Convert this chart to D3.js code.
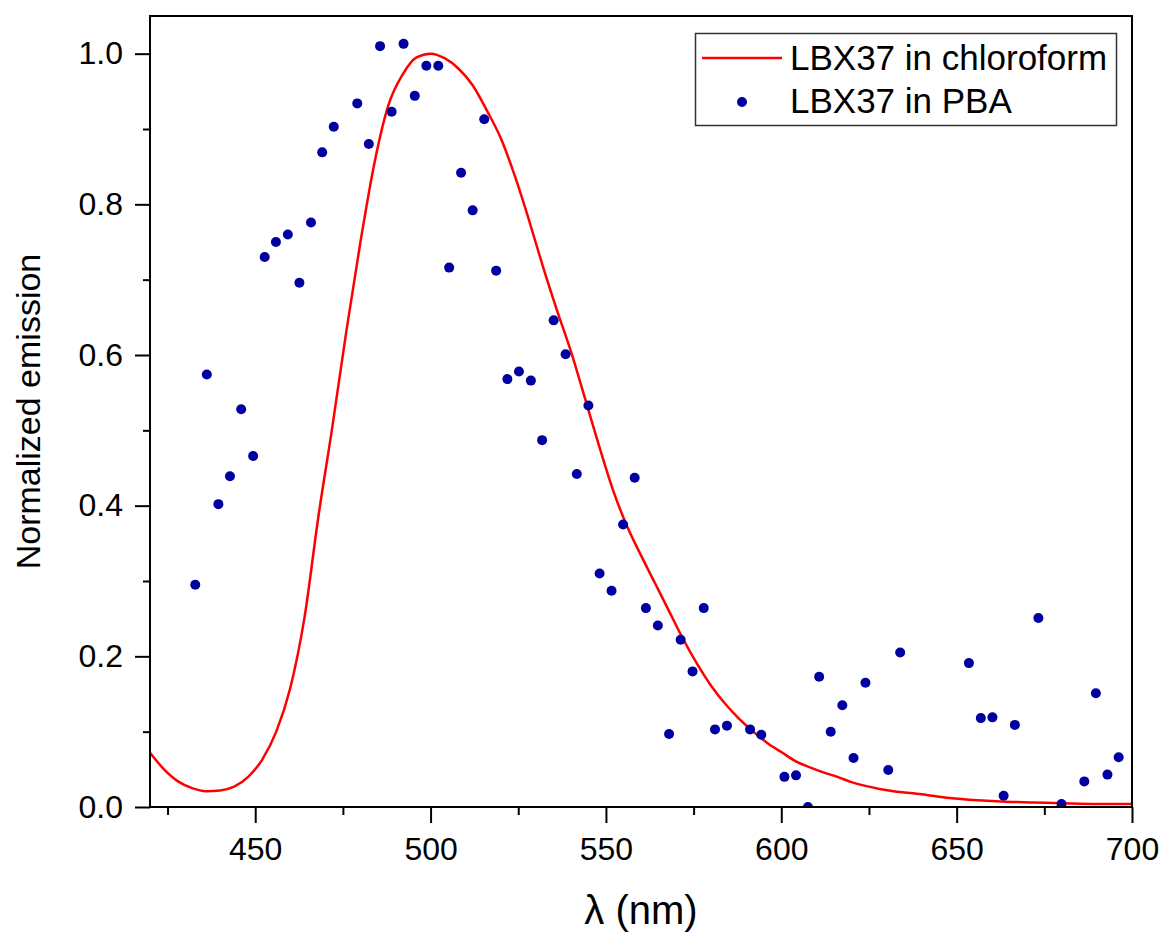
<!DOCTYPE html>
<html>
<head>
<meta charset="utf-8">
<script src="https://cdn.jsdelivr.net/npm/d3@7"></script>
<style>
  body { margin: 0; background: #fff; }
  text { font-family: "Liberation Sans", Arial, sans-serif; fill: #000; }
</style>
</head>
<body>
<div class="chart"></div>
<script>
// chloroform emission curve (wavelength, normalized intensity)
let solWl = [420, 424, 428, 432, 436, 440, 444, 448, 452, 456, 460, 464, 468, 472, 476, 480,
  484, 488, 492, 496, 500, 504, 508, 512, 516, 520, 524, 528, 532, 536, 540, 544, 548, 552,
  556, 560, 564, 568, 572, 576, 580, 584, 588, 592, 596, 600, 604, 608, 612, 616, 620, 624,
  628, 632, 640, 648, 656, 664, 672, 680, 690, 700];
let solEm = [0.072, 0.050, 0.034, 0.025, 0.021, 0.022, 0.027, 0.040, 0.063, 0.100, 0.158, 0.250,
  0.385, 0.505, 0.632, 0.750, 0.855, 0.932, 0.972, 0.995, 1.000, 0.994, 0.980, 0.958, 0.925,
  0.888, 0.838, 0.780, 0.718, 0.660, 0.605, 0.543, 0.480, 0.421, 0.373, 0.334, 0.297, 0.260,
  0.223, 0.190, 0.161, 0.137, 0.117, 0.100, 0.085, 0.073, 0.061, 0.053, 0.046, 0.040, 0.033,
  0.028, 0.024, 0.021, 0.017, 0.012, 0.009, 0.007, 0.006, 0.005, 0.004, 0.004];

// PBA film emission points
let pbaWl = [432.9, 436.2, 439.5, 442.8, 446.0, 449.4, 452.7, 455.9, 459.3, 462.6, 465.9, 469.1,
  472.4, 479.1, 482.4, 485.6, 488.9, 492.3, 495.5, 498.8, 502.2, 505.3, 508.7, 512.0, 515.3,
  518.7, 521.9, 525.2, 528.6, 531.8, 535.1, 538.5, 541.7, 545.0, 548.2, 551.6, 554.9, 558.2,
  561.4, 564.8, 568.0, 571.3, 574.7, 577.9, 581.1, 584.5, 591.1, 594.3, 600.9, 604.2, 607.6,
  610.8, 614.1, 617.4, 620.6, 624.0, 630.5, 633.9, 653.5, 656.9, 660.2, 663.4, 666.6, 673.3,
  679.9, 682.8, 686.4, 689.7, 693.0, 696.2];
let pbaEm = [0.295, 0.574, 0.402, 0.439, 0.528, 0.466, 0.730, 0.750, 0.760, 0.696, 0.776, 0.869,
  0.903, 0.934, 0.880, 1.010, 0.923, 1.013, 0.944, 0.984, 0.984, 0.716, 0.842, 0.792, 0.913,
  0.712, 0.568, 0.578, 0.566, 0.487, 0.646, 0.601, 0.442, 0.533, 0.310, 0.287, 0.375, 0.437,
  0.264, 0.241, 0.097, 0.222, 0.180, 0.264, 0.103, 0.108, 0.103, 0.096, 0.040, 0.042, 0.000,
  0.173, 0.100, 0.135, 0.065, 0.165, 0.049, 0.205, 0.191, 0.118, 0.119, 0.015, 0.109, 0.251,
  0.004, -0.008, 0.034, 0.151, 0.043, 0.066];

let xMajor = [450, 500, 550, 600, 650, 700];
let xMinor = [425, 475, 525, 575, 625, 675];
let yMajor = [0, 0.2, 0.4, 0.6, 0.8, 1.0];
let yMinor = [0.1, 0.3, 0.5, 0.7, 0.9];

let svgW = 1162;
let svgH = 936;
let margin = { top: 16, right: 30, bottom: 129, left: 150 };
let width = svgW - margin.left - margin.right;
let height = svgH - margin.top - margin.bottom;

let svg = d3.select(".chart").append("svg")
  .attr("width", svgW)
  .attr("height", svgH);

let chartGroup = svg.append("g")
  .attr("transform", `translate(${margin.left}, ${margin.top})`);

let x = d3.scaleLinear().domain([420, 700]).range([0, width]);
let y = d3.scaleLinear().domain([0, 1.05]).range([height, 0]);

// clip data to the frame like the original plot
svg.append("defs").append("clipPath").attr("id", "plotClip")
  .append("rect").attr("width", width).attr("height", height);

let dataGroup = chartGroup.append("g").attr("clip-path", "url(#plotClip)");

let solution = solWl.map((w, i) => ({ w: w, v: solEm[i] }));
let film = pbaWl.map((w, i) => ({ w: w, v: pbaEm[i] }));

let line = d3.line()
  .x(d => x(d.w))
  .y(d => y(d.v))
  .curve(d3.curveMonotoneX);

dataGroup.append("path")
  .datum(solution)
  .attr("d", line)
  .attr("fill", "none")
  .attr("stroke", "#ff0000")
  .attr("stroke-width", 2.5);

dataGroup.selectAll("circle")
  .data(film)
  .enter()
  .append("circle")
  .attr("cx", d => x(d.w))
  .attr("cy", d => y(d.v))
  .attr("r", 5)
  .attr("fill", "#0000a0");

// axes: major ticks with labels, minor ticks without
let xAxis = chartGroup.append("g")
  .attr("transform", `translate(0, ${height})`)
  .call(d3.axisBottom(x).tickValues(xMajor).tickSize(16).tickPadding(14).tickFormat(d3.format("d")));
chartGroup.append("g")
  .attr("transform", `translate(0, ${height})`)
  .call(d3.axisBottom(x).tickValues(xMinor).tickSize(8).tickFormat(""));

let yAxis = chartGroup.append("g")
  .call(d3.axisLeft(y).tickValues(yMajor).tickSize(15).tickPadding(12).tickFormat(d3.format(".1f")));
chartGroup.append("g")
  .call(d3.axisLeft(y).tickValues(yMinor).tickSize(7).tickFormat(""));

chartGroup.selectAll(".domain").remove();
chartGroup.selectAll(".tick line").attr("stroke", "#000").attr("stroke-width", 2);
chartGroup.selectAll(".tick text").style("font-size", "32px");

// frame around the plot
chartGroup.append("rect")
  .attr("width", width)
  .attr("height", height)
  .attr("fill", "none")
  .attr("stroke", "#000")
  .attr("stroke-width", 2);

// axis titles
svg.append("text")
  .attr("x", margin.left + width / 2)
  .attr("y", 924)
  .attr("text-anchor", "middle")
  .style("font-size", "40px")
  .text("λ (nm)");

svg.append("text")
  .attr("transform", `translate(40, ${margin.top + height / 2}) rotate(-90)`)
  .attr("text-anchor", "middle")
  .style("font-size", "34px")
  .text("Normalized emission");

// legend
let legend = svg.append("g");
legend.append("rect")
  .attr("x", 695.5).attr("y", 33.5)
  .attr("width", 421).attr("height", 92)
  .attr("fill", "#fff")
  .attr("stroke", "#333")
  .attr("stroke-width", 1.5);
legend.append("line")
  .attr("x1", 702).attr("x2", 782)
  .attr("y1", 58).attr("y2", 58)
  .attr("stroke", "#ff0000")
  .attr("stroke-width", 2.5);
legend.append("circle")
  .attr("cx", 742).attr("cy", 102).attr("r", 5)
  .attr("fill", "#0000a0");
legend.append("text")
  .attr("x", 790).attr("y", 70)
  .style("font-size", "35px")
  .text("LBX37 in chloroform");
legend.append("text")
  .attr("x", 790).attr("y", 113)
  .style("font-size", "35px")
  .text("LBX37 in PBA");
</script>
</body>
</html>
